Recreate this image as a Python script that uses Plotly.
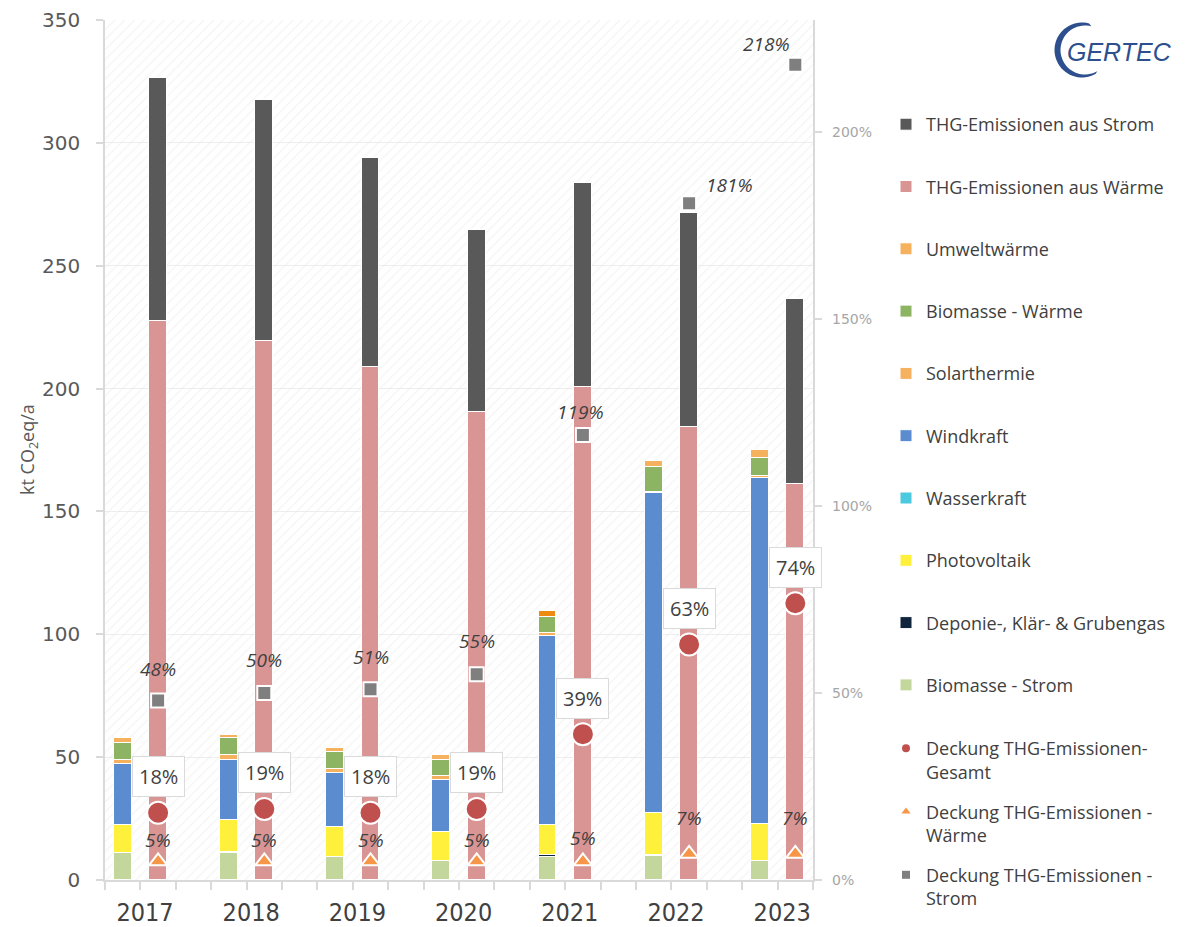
import math
import plotly.graph_objects as go

# ---- data (kt CO2eq/a) ----
years = ["2017", "2018", "2019", "2020", "2021", "2022", "2023"]

biomasse_strom = [11.1, 10.8, 9.2, 7.7, 9.4, 9.8, 7.6]
deponie_gas = [0.0, 0.5, 0.0, 0.0, 0.6, 0.5, 0.0]
photovoltaik = [11.1, 13.1, 12.2, 12.0, 12.4, 16.9, 15.0]
wasserkraft = [0.0, 0.0, 0.0, 0.0, 0.0, 0.0, 0.0]
windkraft = [25.0, 24.4, 22.3, 21.0, 76.9, 130.2, 141.0]
solarthermie = [1.6, 2.1, 1.3, 1.6, 1.2, 0.6, 1.0]
biomasse_waerme = [6.8, 6.7, 7.2, 6.5, 6.5, 10.2, 7.2]
umweltwaerme = [2.0, 1.4, 1.6, 2.1, 2.5, 2.4, 3.3]

thg_waerme = [227.5, 219.4, 208.8, 190.5, 200.5, 184.4, 161.2]
thg_strom = [98.9, 98.1, 85.1, 74.0, 83.2, 87.1, 75.3]

# coverage of emissions by renewables (%)
deckung_gesamt = [18, 19, 18, 19, 39, 63, 74]
deckung_waerme = [5, 5, 5, 5, 5, 7, 7]
deckung_strom = [48, 50, 51, 55, 119, 181, 218]

pct_ticks = [0, 50, 100, 150, 200]

# ---- layout constants ----
W, H = 1198, 927
ML, MR, MT, MB = 105, 385, 20, 47
PW, PH = W - ML - MR, H - MT - MB
Y_MAX, Y2_MAX = 350, 230
X_MAX = 20

FONT = "Open Sans, Liberation Sans, sans-serif"
NUM_FONT = "DejaVu Sans, sans-serif"
NARROW = "Liberation Sans Narrow, Arial Narrow, DejaVu Sans Condensed, Roboto, sans-serif"
TXT = "#404040"
AXIS_GREY = "#D9D9D9"

n = len(years)
x_ren = [3 * i + 0.5 for i in range(n)]
x_thg = [3 * i + 1.5 for i in range(n)]
x_year = [3 * i + 1.13 for i in range(n)]
BAR_W = 0.5

fig = go.Figure()

# hatched plot-area background
fig.add_trace(go.Bar(
    x=[X_MAX / 2], y=[Y_MAX], width=[X_MAX], showlegend=False, hoverinfo="skip",
    marker=dict(color="rgba(0,0,0,0)", line_width=0,
                pattern=dict(shape="/", fgcolor="#E6E6E6", size=7, solidity=0.15)),
))

def add_bar(name, x, y, color, rank):
    fig.add_trace(go.Bar(
        name=name, x=x, y=y, width=BAR_W, legendrank=rank, legendgroup=name,
        marker=dict(color=color, line=dict(color="white", width=1)),
    ))

umwelt_colors = ["#F6B15F"] * n
umwelt_colors[4] = "#EE8A12"

add_bar("Biomasse - Strom", x_ren, biomasse_strom, "#C3D69B", 10)
add_bar("Deponie-, Klär- & Grubengas", x_ren, deponie_gas, "#10243E", 9)
add_bar("Photovoltaik", x_ren, photovoltaik, "#FFF03C", 8)
add_bar("Wasserkraft", x_ren, wasserkraft, "#4BC9DF", 7)
add_bar("Windkraft", x_ren, windkraft, "#5B8CCF", 6)
add_bar("Solarthermie", x_ren, solarthermie, "#F6B15F", 5)
add_bar("Biomasse - Wärme", x_ren, biomasse_waerme, "#8DB462", 4)
add_bar("Umweltwärme", x_ren, umweltwaerme, umwelt_colors, 3)
add_bar("THG-Emissionen aus Wärme", x_thg, thg_waerme, "#D99594", 2)
add_bar("THG-Emissionen aus Strom", x_thg, thg_strom, "#595959", 1)

# coverage markers on the secondary axis
markers = [
    ("Deckung THG-Emissionen-<br>Gesamt", deckung_gesamt, "circle", 22, 8, "#C0504D"),
    ("Deckung THG-Emissionen -<br>Wärme", deckung_waerme, "triangle-up", 16, 8, "#F79646"),
    ("Deckung THG-Emissionen -<br>Strom", deckung_strom, "square", 14, 8, "#7F7F7F"),
]
for k, (name, vals, sym, size, leg_size, col) in enumerate(markers):
    fig.add_trace(go.Scatter(
        x=x_thg, y=vals, yaxis="y2", mode="markers", showlegend=False, name=name,
        marker=dict(symbol=sym, size=size, color=col, line=dict(color="white", width=2)),
    ))
    fig.add_trace(go.Scatter(
        x=[None], y=[None], yaxis="y2", mode="markers", name=name, legend="legend2",
        legendgroup=f"deckung{k}", legendrank=k + 1,
        marker=dict(symbol=sym, size=leg_size, color=col),
    ))

annotations = []

# total coverage labels (boxed)
for xv, v in zip(x_thg, deckung_gesamt):
    annotations.append(dict(
        x=xv, y=v, xref="x", yref="y2", text=f"{v}%", showarrow=False,
        yshift=36, font=dict(size=20, color=TXT, family=FONT),
        bgcolor="white", bordercolor="#DADADA", borderwidth=1, borderpad=6,
    ))

# heat coverage labels
waerme_dy = [21, 21, 21, 21, 23, 36, 36]
for xv, v, dy in zip(x_thg, deckung_waerme, waerme_dy):
    annotations.append(dict(
        x=xv, y=v, xref="x", yref="y2", text=f"<i>{v}%</i>", showarrow=False,
        yshift=dy, font=dict(size=19, color=TXT, family=FONT),
    ))

# power coverage labels
strom_dx = [0, 0, 0, 0, -2, 40, -29]
strom_dy = [32, 33, 32, 33, 23, 18, 21]
for xv, v, dx, dy in zip(x_thg, deckung_strom, strom_dx, strom_dy):
    annotations.append(dict(
        x=xv, y=v, xref="x", yref="y2", text=f"<i>{v}%</i>", showarrow=False,
        xshift=dx, yshift=dy, font=dict(size=19, color=TXT, family=FONT),
    ))

# right-axis percentage labels
for t in pct_ticks:
    annotations.append(dict(
        x=1, y=t, xref="paper", yref="y2", text=f"{t}%", showarrow=False,
        xanchor="left", yanchor="middle", xshift=17,
        font=dict(size=14, color="#A6A6A6", family=NUM_FONT),
    ))

def paper(px, py):
    return (px - ML) / PW, (H - MB - py) / PH

# y-axis title
tx, ty = paper(28, 450)
annotations.append(dict(
    x=tx, y=ty, xref="paper", yref="paper", text="kt CO<sub>2</sub>eq/a",
    textangle=-90, showarrow=False, xanchor="center", yanchor="middle",
    font=dict(size=18, color="#595959", family=FONT),
))

# logo
LOGO = "#2E4F8E"
gx, gy = paper(1119, 52)
annotations.append(dict(
    x=gx, y=gy, xref="paper", yref="paper", text="<i>GERTEC</i>", showarrow=False,
    xanchor="center", yanchor="middle",
    font=dict(size=25, color=LOGO, family="Liberation Sans, sans-serif"),
))

def arc_pts(cx, cy, r, a0, a1, steps=40):
    pts = []
    for k in range(steps + 1):
        a = math.radians(a0 + (a1 - a0) * k / steps)
        pts.append(paper(cx + r * math.cos(a), cy - r * math.sin(a)))
    return pts

outer = arc_pts(1082, 50, 27.5, 75, 300)
inner = arc_pts(1085, 50, 24.5, 300, 75)
path = "M " + " L ".join(f"{x:.5f},{y:.5f}" for x, y in outer + inner) + " Z"

fig.update_layout(
    width=W, height=H,
    margin=dict(l=ML, r=MR, t=MT, b=MB, autoexpand=False),
    paper_bgcolor="white", plot_bgcolor="white",
    barmode="stack", bargap=0,
    font=dict(family=FONT, color=TXT),
    annotations=annotations,
    shapes=[dict(type="path", path=path, xref="paper", yref="paper",
                 fillcolor=LOGO, line=dict(width=0))],
    xaxis=dict(
        range=[0, X_MAX], tickmode="array", tickvals=x_year, ticktext=years,
        ticks="", showgrid=False, zeroline=False, showline=True, automargin=False,
        linecolor=AXIS_GREY, linewidth=1.5, ticklabelstandoff=9,
        tickfont=dict(family=NARROW, size=25, color=TXT),
        minor=dict(tick0=0, dtick=1, ticks="outside", ticklen=8,
                   tickcolor=AXIS_GREY, tickwidth=1.5, showgrid=False),
    ),
    yaxis=dict(
        range=[0, Y_MAX], tickmode="array", tickvals=list(range(0, Y_MAX + 1, 50)),
        ticks="outside", ticklen=7, tickcolor=AXIS_GREY, tickwidth=1.5, automargin=False,
        showline=True, linecolor=AXIS_GREY, linewidth=1.5,
        showgrid=True, gridcolor="#EDEDED", zeroline=False, ticklabelstandoff=12,
        tickfont=dict(family=NUM_FONT, size=20, color="#595959"),
    ),
    yaxis2=dict(
        range=[0, Y2_MAX], overlaying="y", side="right", tickmode="array",
        tickvals=pct_ticks, ticktext=["" for _ in pct_ticks],
        ticks="outside", ticklen=7, tickcolor=AXIS_GREY, tickwidth=1.5, automargin=False,
        showline=True, linecolor=AXIS_GREY, linewidth=1.5,
        showgrid=False, zeroline=False,
    ),
    legend=dict(
        x=paper(886, 0)[0], y=paper(0, 106)[1], xanchor="left", yanchor="top",
        traceorder="grouped", tracegroupgap=35.9, bgcolor="rgba(0,0,0,0)",
        font=dict(family=FONT, size=18, color=TXT),
    ),
    legend2=dict(
        x=paper(886, 0)[0], y=paper(0, 730)[1], xanchor="left", yanchor="top",
        traceorder="grouped", tracegroupgap=13.5, valign="top", bgcolor="rgba(0,0,0,0)",
        font=dict(family=FONT, size=18, color=TXT),
    ),
)

fig.write_html("out.html")
